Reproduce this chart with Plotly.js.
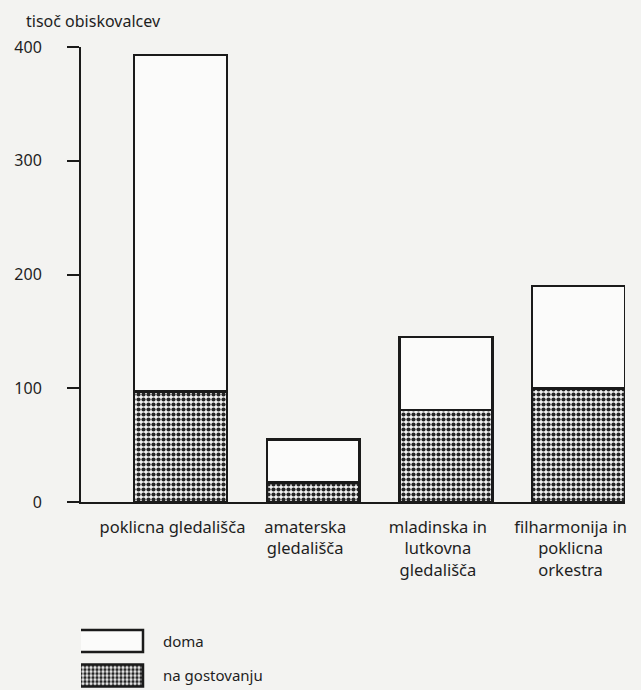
<!DOCTYPE html>
<html>
<head>
<meta charset="utf-8">
<script src="https://cdn.plot.ly/plotly-3.0.1.min.js"></script>
<style>html,body{margin:0;padding:0;background:#f3f3f1;}</style>
</head>
<body>
<div id="chart" style="width:641px;height:690px;"></div>
<script>
// Data (thousand visitors)
const categories = [
  'poklicna gledališča',
  'amaterska<br>gledališča',
  'mladinska in<br>lutkovna<br>gledališča',
  'filharmonija in<br>poklicna<br>orkestra'
];
const naGostovanju = [97, 17, 81, 100];
const doma = [296, 38, 64, 90];
const yTicks = [0, 100, 200, 300, 400];

const font = {family: '"Noto Sans", "Open Sans", sans-serif', size: 16, color: '#1e1e1e'};
const xFont = {family: font.family, size: 16.5, color: '#1e1e1e'};
const xIdx = categories.map((c, i) => i);

const traces = [
  {
    type: 'bar', name: 'na gostovanju', legendgroup: 'b', legendrank: 2,
    x: xIdx, y: naGostovanju, width: 0.7,
    marker: {color: '#ffffff', line: {color: '#1a1a1a', width: 2.5},
      pattern: {shape: '.', size: 5, solidity: 0.55, fgcolor: '#262626', bgcolor: '#f2f2f2', fillmode: 'replace'}},
    hoverinfo: 'skip'
  },
  {
    type: 'bar', name: 'doma', legendgroup: 'a', legendrank: 1,
    x: xIdx, y: doma, width: 0.7,
    marker: {color: '#fbfbfa', line: {color: '#1a1a1a', width: 2.5}},
    hoverinfo: 'skip'
  }
];

const layout = {
  width: 641, height: 690,
  margin: {l: 81, r: 16, t: 47, b: 187.5, autoexpand: false},
  paper_bgcolor: '#f3f3f1', plot_bgcolor: '#f3f3f1',
  barmode: 'stack',
  font: font,
  showlegend: true,
  legend: {
    x: 0.0, xanchor: 'left', y: -0.27, yanchor: 'top',
    traceorder: 'grouped', tracegroupgap: 12,
    itemwidth: 72, bgcolor: 'rgba(0,0,0,0)', font: {family: font.family, size: 15, color: '#1e1e1e'}
  },
  xaxis: {
    range: [-0.75, 3.35], tickmode: 'array', tickvals: xIdx, ticktext: categories,
    showline: true, linecolor: '#1a1a1a', linewidth: 2, showgrid: false, zeroline: false,
    ticks: '', ticklabelstandoff: 9, ticklabelshift: -8, tickfont: xFont, fixedrange: true, automargin: false
  },
  yaxis: {
    range: [0, 400], tickmode: 'array', tickvals: yTicks,
    showline: true, linecolor: '#1a1a1a', linewidth: 2, showgrid: false, zeroline: false,
    ticks: 'outside', ticklen: 12, tickwidth: 2, tickcolor: '#1a1a1a',
    ticklabelstandoff: 22, tickfont: font, fixedrange: true, automargin: false
  },
  annotations: [{
    text: 'tisoč obiskovalcev', xref: 'paper', yref: 'paper',
    x: -0.105, xanchor: 'left', y: 1.058, yanchor: 'middle',
    showarrow: false, font: font
  }]
};

Plotly.newPlot('chart', traces, layout, {displayModeBar: false, staticPlot: true}).then(() => {
  document.querySelectorAll('.legend .legendpoints path').forEach(p => {
    p.setAttribute('d', 'M36,11H-36V-11H36Z');
    p.setAttribute('transform', 'translate(26,0)');
  });
});
</script>
</body>
</html>
